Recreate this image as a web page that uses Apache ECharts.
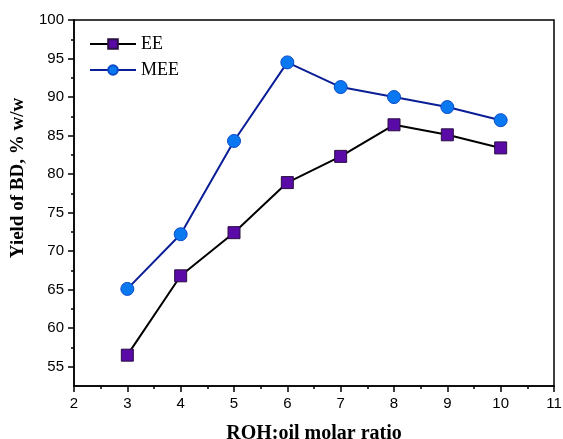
<!DOCTYPE html>
<html>
<head>
<meta charset="utf-8">
<script src="https://cdn.jsdelivr.net/npm/echarts@6/dist/echarts.min.js"></script>
<style>
  html, body { margin: 0; padding: 0; background: #fff; }
  #chart { width: 563px; height: 439px; }
</style>
</head>
<body>
<div id="chart"></div>
<script>
const ratios = [3, 4, 5, 6, 7, 8, 9, 10];
const eeYield = [56.5, 66.8, 72.4, 78.9, 82.3, 86.4, 85.1, 83.4];
const meeYield = [65.1, 72.2, 84.3, 94.5, 91.3, 90.0, 88.7, 87.0];
const yMajorTicks = [55, 60, 65, 70, 75, 80, 85, 90, 95, 100];
const yMinorTicks = [57.5, 62.5, 67.5, 72.5, 77.5, 82.5, 87.5, 92.5, 97.5];

const chart = echarts.init(document.getElementById("chart"));

const labelFont = { fontFamily: "Liberation Sans", fontSize: 15, color: "#000" };

chart.setOption({
  animation: false,
  grid: {
    left: 74, right: 9, top: 20, bottom: 53,
    outerBoundsMode: "none",
    containLabel: false,
    show: true, borderColor: "#000", borderWidth: 1.5,
  },
  legend: {
    left: 89,
    top: 35,
    padding: 0,
    orient: "vertical",
    itemWidth: 46,
    itemHeight: 12,
    itemGap: 8,
    textStyle: { fontFamily: "Liberation Serif", fontSize: 18, color: "#000" },
    data: ["EE", "MEE"],
  },
  xAxis: {
    type: "value",
    min: 2,
    max: 11,
    interval: 1,
    name: "ROH:oil molar ratio",
    nameLocation: "middle",
    nameGap: 38,
    nameTextStyle: { fontFamily: "Liberation Serif", fontSize: 20, fontWeight: "bold", color: "#000" },
    axisLine: { lineStyle: { color: "#000", width: 1.5 } },
    axisTick: { length: 6, lineStyle: { color: "#000", width: 1.5 } },
    minorTick: { show: true, splitNumber: 2, length: 3, lineStyle: { color: "#000", width: 1.5 } },
    axisLabel: { ...labelFont, margin: 10 },
    splitLine: { show: false },
  },
  yAxis: [
    {
      type: "value",
      min: 52.5,
      max: 100,
      name: "Yield of BD, % w/w",
      nameLocation: "middle",
      nameGap: 45,
      nameTextStyle: {
        fontFamily: "Liberation Serif",
        fontSize: 19,
        fontWeight: "bold",
        color: "#000",
        padding: [0, 0, 0, 50],
      },
      axisLine: { lineStyle: { color: "#000", width: 1.5 } },
      axisTick: { length: 6, customValues: yMajorTicks, lineStyle: { color: "#000", width: 1.5 } },
      axisLabel: { ...labelFont, margin: 10, customValues: yMajorTicks },
      splitLine: { show: false },
    },
    {
      type: "value",
      min: 52.5,
      max: 100,
      position: "left",
      axisLine: { show: false },
      axisTick: { show: true, length: 3, customValues: yMinorTicks, lineStyle: { color: "#000", width: 1.5 } },
      axisLabel: { show: false },
      splitLine: { show: false },
    },
  ],
  series: [
    {
      name: "EE",
      type: "line",
      data: ratios.map((r, i) => [r, eeYield[i]]),
      symbol: "rect",
      symbolSize: 12,
      lineStyle: { color: "#000", width: 2 },
      itemStyle: { color: "#5a0aa6", borderColor: "#2a1040", borderWidth: 1 },
      z: 3,
    },
    {
      name: "MEE",
      type: "line",
      data: ratios.map((r, i) => [r, meeYield[i]]),
      symbol: "circle",
      symbolSize: 13,
      lineStyle: { color: "#0a1e96", width: 2 },
      itemStyle: { color: "#0a78f0", borderColor: "#0a4ac8", borderWidth: 1 },
      z: 4,
    },
  ],
});
</script>
</body>
</html>
